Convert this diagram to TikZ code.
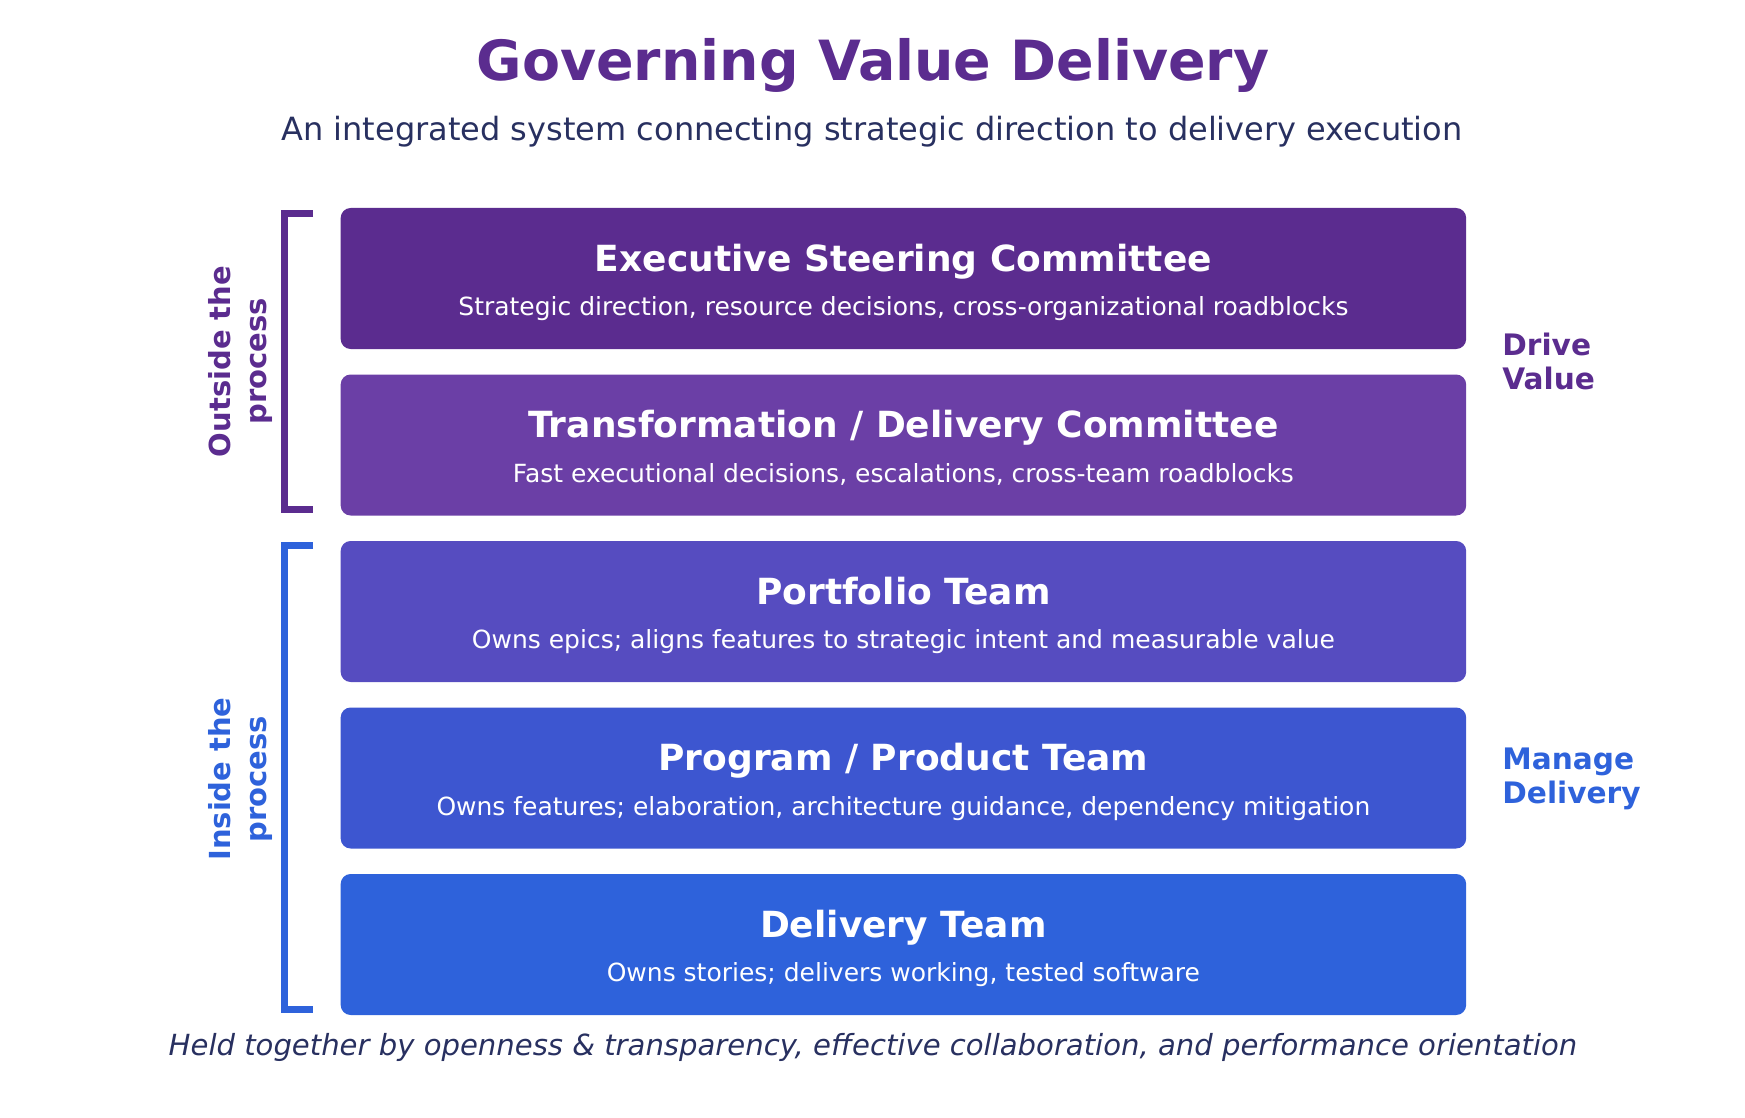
\documentclass[tikz,border=0pt]{standalone}
\usepackage{fontspec}
\setmainfont{DejaVu Sans}
\usepackage{xcolor}
\usepackage{tikz}
\usetikzlibrary{positioning, calc}

\definecolor{govPurple}{HTML}{5B2C8F}
\definecolor{govViolet}{HTML}{6B3FA6}
\definecolor{govIndigo}{HTML}{564CC0}
\definecolor{govRoyal}{HTML}{3D56D0}
\definecolor{govBlue}{HTML}{2E62DB}
\definecolor{govNavy}{HTML}{283060}

\tikzset{
  layer/.style={rectangle, rounded corners=5pt, draw=none,
                minimum width=562.75pt, minimum height=70.5pt},
  layerT/.style={font=\fontsize{18}{21}\selectfont\bfseries, text=white,
                 anchor=base, inner sep=0pt},
  layerS/.style={font=\fontsize{12.5}{15}\selectfont, text=white,
                 anchor=base, inner sep=0pt},
  side/.style={font=\fontsize{14.8}{17}\selectfont\bfseries, align=left,
               anchor=west, inner sep=0pt},
  sideR/.style={font=\fontsize{14.5}{18}\selectfont\bfseries, align=center,
                rotate=90, inner sep=0pt},
  brace/.style={line width=3.5pt},
}

\begin{document}
\begin{tikzpicture}[x=0.5pt, y=-0.5pt]
  \useasboundingbox (0,0) rectangle (1745,1118);

  % Heading
  \node[font=\fontsize{27.7}{32}\selectfont\bfseries, text=govPurple,
        anchor=base, inner sep=0pt] (title) at (873,81) {Governing Value Delivery};
  \node[font=\fontsize{16}{19}\selectfont, text=govNavy,
        anchor=base, inner sep=0pt] (subtitle) at (872,141)
        {An integrated system connecting strategic direction to delivery execution};

  % Layers
  \node[layer, fill=govPurple] (exec)  at (903.4,278.5) {};
  \node[layer, fill=govViolet] (trans) at (903.4,445)   {};
  \node[layer, fill=govIndigo] (port)  at (903.4,611.5) {};
  \node[layer, fill=govRoyal]  (prog)  at (903.4,778)   {};
  \node[layer, fill=govBlue]   (deliv) at (903.4,944.5) {};

  % Layer texts
  \node[layerT] (execT)  at ($(exec)+(0,-7.5)$)  {Executive Steering Committee};
  \node[layerS] (execS)  at ($(exec)+(0,37)$)    {Strategic direction, resource decisions, cross-organizational roadblocks};
  \node[layerT] (transT) at ($(trans)+(0,-7.5)$) {Transformation / Delivery Committee};
  \node[layerS] (transS) at ($(trans)+(0,37)$)   {Fast executional decisions, escalations, cross-team roadblocks};
  \node[layerT] (portT)  at ($(port)+(0,-7.5)$)  {Portfolio Team};
  \node[layerS] (portS)  at ($(port)+(0,37)$)    {Owns epics; aligns features to strategic intent and measurable value};
  \node[layerT] (progT)  at ($(prog)+(0,-7.5)$)  {Program / Product Team};
  \node[layerS] (progS)  at ($(prog)+(0,37)$)    {Owns features; elaboration, architecture guidance, dependency mitigation};
  \node[layerT] (delivT) at ($(deliv)+(0,-7.5)$) {Delivery Team};
  \node[layerS] (delivS) at ($(deliv)+(0,37)$)   {Owns stories; delivers working, tested software};

  % Brackets
  \coordinate (outTop) at (313,213.5);
  \coordinate (outBot) at (313,509.5);
  \coordinate (inTop)  at (313,545.5);
  \coordinate (inBot)  at (313,1009.5);
  \draw[brace, govPurple] (outTop) -| (284.5,0 |- outBot) -- (outBot);
  \draw[brace, govBlue]   (inTop)  -| (284.5,0 |- inBot)  -- (inBot);
  \node[sideR, text=govPurple] (outside) at (240,361.5) {Outside the\\process};
  \node[sideR, text=govBlue]   (inside)  at (240,779)   {Inside the\\process};

  % Right labels
  \node[side, text=govPurple] (drive)  at (1502,361) {Drive\\Value};
  \node[side, text=govBlue]   (manage) at (1502,779) {Manage\\Delivery};

  % Footer
  \node[font=\fontsize{14.55}{17}\selectfont\itshape, text=govNavy,
        anchor=base, inner sep=0pt] (footer) at (873,1055)
        {Held together by openness \& transparency, effective collaboration, and performance orientation};
\end{tikzpicture}
\end{document}
